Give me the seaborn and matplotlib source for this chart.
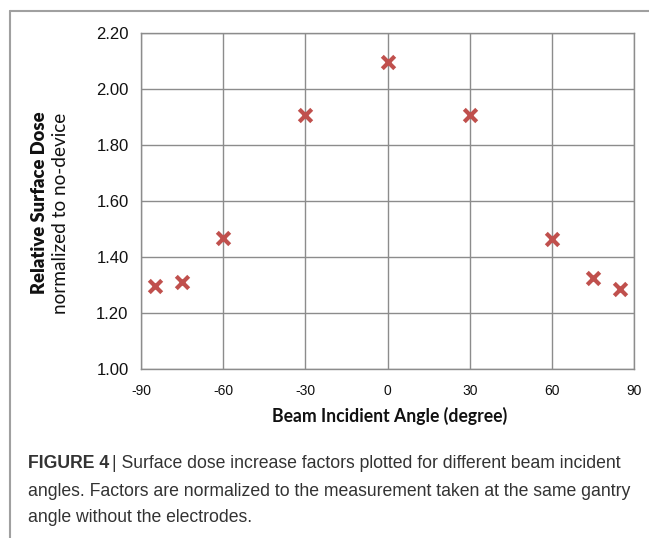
import matplotlib
matplotlib.use("Agg")
import matplotlib.pyplot as plt
import seaborn as sns
import pandas as pd

angles = [-85, -75, -60, -30, 0, 30, 60, 75, 85]
dose = [1.295, 1.31, 1.467, 1.907, 2.096, 1.907, 1.463, 1.326, 1.287]
xticks = [-90, -60, -30, 0, 30, 60, 90]
yticks = [1.00, 1.20, 1.40, 1.60, 1.80, 2.00, 2.20]

df = pd.DataFrame({"angle": angles, "dose": dose})

sns.set_style("white")
plt.rcParams["font.family"] = ["Liberation Sans", "DejaVu Sans"]

W, H = 649, 538
fig = plt.figure(figsize=(W / 100, H / 100), dpi=100)
ax = fig.add_axes([141 / W, 1 - 369 / H, (634 - 141) / W, (369 - 33) / H])

sns.scatterplot(data=df, x="angle", y="dose", ax=ax, marker="x", s=80,
                color="#C0504D", linewidth=3, zorder=5)

ax.set_xlim(-90, 90)
ax.set_ylim(1.0, 2.2)
ax.set_xticks(xticks)
ax.set_yticks(yticks)
ax.set_xticklabels([str(t) for t in xticks], fontsize=10)
ax.set_yticklabels([f"{t:.2f}" for t in yticks], fontsize=12)
ax.grid(True, color="#8c8c8c", linewidth=1)
ax.set_axisbelow(True)
for s in ax.spines.values():
    s.set_color("#8c8c8c")
    s.set_linewidth(1)
ax.tick_params(axis="both", direction="out", length=5, color="#8c8c8c", width=1,
               labelcolor="#111111", pad=4)
ax.tick_params(axis="x", pad=6)
ax.set_xlabel("")
ax.set_ylabel("")

fig.text(390 / W, 1 - 416 / H, "Beam Incidient Angle (degree)", ha="center", va="center",
         fontsize=12.7, fontweight="bold", family=["Lato", "Liberation Sans"], color="#111111")
fig.text(40 / W, 1 - 203 / H, "Relative Surface Dose", rotation=90, ha="center", va="center",
         fontsize=13.2, fontweight="heavy", family=["Lato", "Liberation Sans"], color="#111111")
fig.text(61 / W, 1 - 213 / H, "normalized to no-device", rotation=90, ha="center", va="center",
         fontsize=13.7, family=["Lato", "Liberation Sans"], color="#111111")

# frame (top and left edges)
fig.add_artist(plt.Line2D([10 / W, 1], [1 - 11 / H, 1 - 11 / H], transform=fig.transFigure,
                          color="#a0a0a0", linewidth=1.5))
fig.add_artist(plt.Line2D([10 / W, 10 / W], [1 - 11 / H, 0], transform=fig.transFigure,
                          color="#a0a0a0", linewidth=1.5))

cap_font = ["Liberation Sans"]
cap_size = 12.7
x0 = 28 / W
fig.canvas.draw()
r = fig.canvas.get_renderer()
t1 = fig.text(x0, 1 - 463 / H, "FIGURE 4", fontsize=cap_size, fontweight="bold",
              family=cap_font, va="center", color="#333333")
bb = t1.get_window_extent(renderer=r)
fig.text(bb.x1 / W + 3 / W, 1 - 463 / H, "| Surface dose increase factors plotted for different beam incident",
         fontsize=cap_size, family=cap_font, va="center", color="#333333")
fig.text(x0, 1 - 491 / H, "angles. Factors are normalized to the measurement taken at the same gantry",
         fontsize=cap_size, family=cap_font, va="center", color="#333333")
fig.text(x0, 1 - 518 / H, "angle without the electrodes.",
         fontsize=cap_size, family=cap_font, va="center", color="#333333")

fig.savefig("out.png", dpi=100)
